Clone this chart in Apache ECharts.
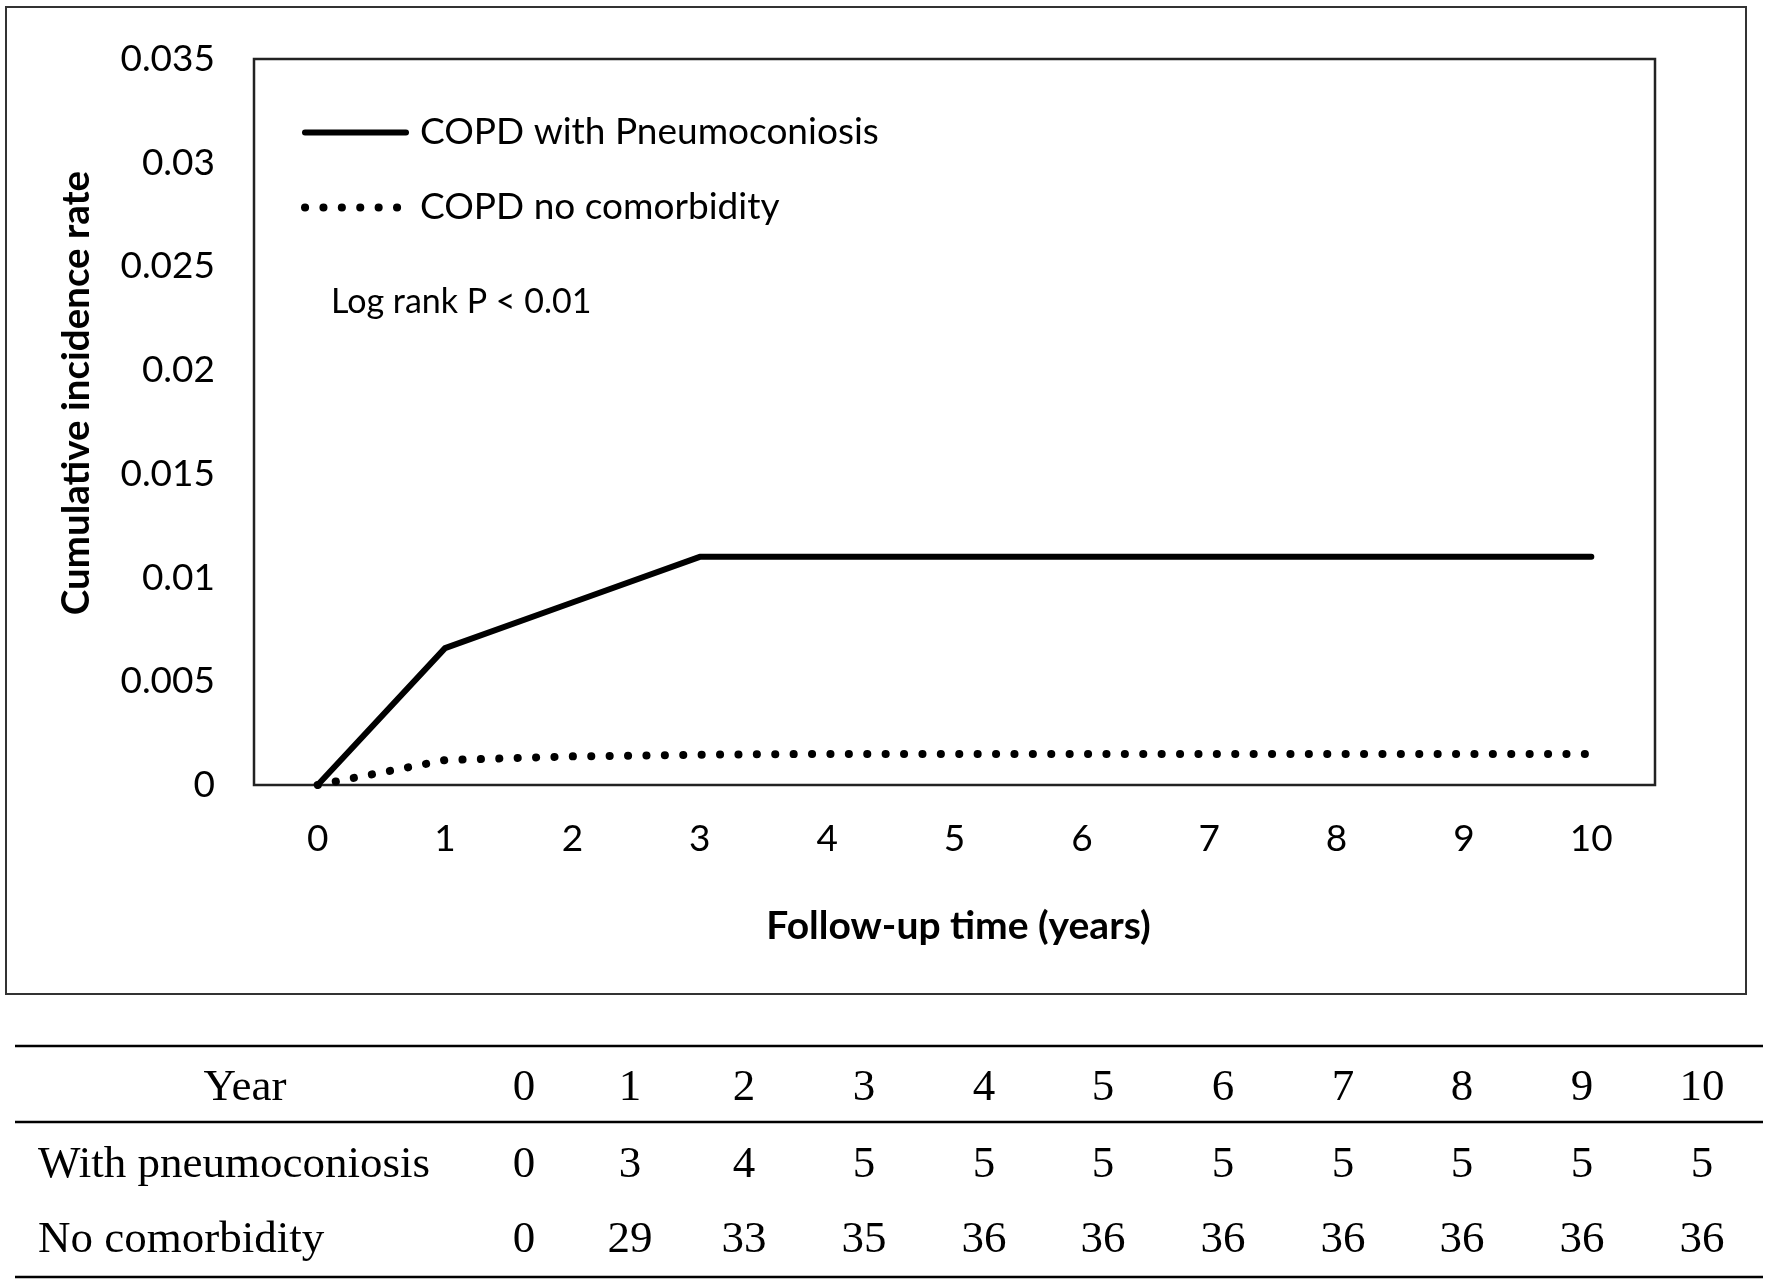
<!DOCTYPE html>
<html>
<head>
<meta charset="utf-8">
<script src="https://cdn.jsdelivr.net/npm/echarts@6/dist/echarts.min.js"></script>
<style>
html,body{margin:0;padding:0;background:#fff;}
#c{width:1772px;height:1288px;}
</style>
</head>
<body>
<div id="c"></div>
<script>
// ---- data ----
const years = ['0','1','2','3','4','5','6','7','8','9','10'];
const seriesNames = ['COPD with Pneumoconiosis', 'COPD no comorbidity'];
const pneumoRate  = [0, 0.0066, 0.0088, 0.011, 0.011, 0.011, 0.011, 0.011, 0.011, 0.011, 0.011];
const noComorbRate = [0, 0.0012, 0.00138, 0.00146, 0.0015, 0.0015, 0.0015, 0.0015, 0.0015, 0.0015, 0.0015];
const yTicks = { min: 0, max: 0.035, interval: 0.005 };
const annotation = 'Log rank P < 0.01';
const xTitle = 'Follow-up time (years)';
const yTitle = 'Cumulative incidence rate';

const tableHeaderLabel = 'Year';
const tableYears = [0, 1, 2, 3, 4, 5, 6, 7, 8, 9, 10];
const tableRowLabels = ['With pneumoconiosis', 'No comorbidity'];
const tableWithPneumo = [0, 3, 4, 5, 5, 5, 5, 5, 5, 5, 5];
const tableNoComorb = [0, 29, 33, 35, 36, 36, 36, 36, 36, 36, 36];

// ---- layout (positions only) ----
const colX = [524, 630, 744, 864, 984, 1103, 1223, 1343, 1462, 1582, 1702];
const rowY = [1088, 1165, 1240];
const ruleY = [1046, 1122, 1277];
const tableFont = '45px "Liberation Serif"';

const chart = echarts.init(document.getElementById('c'), null, { renderer: 'canvas' });

const graphics = [];
// outer frame around the chart
graphics.push({ type: 'rect', z: 0, shape: { x: 6, y: 7, width: 1740, height: 987 },
  style: { fill: 'none', stroke: '#333', lineWidth: 2 } });
// annotation
graphics.push({ type: 'text', x: 331, y: 302,
  style: { text: annotation, font: '34px Lato', fill: '#000', align: 'left', verticalAlign: 'middle' } });
// table rules
ruleY.forEach(y => {
  graphics.push({ type: 'line', shape: { x1: 15, y1: y, x2: 1763, y2: y },
    style: { stroke: '#000', lineWidth: 2.5 } });
});
// table header
graphics.push({ type: 'text', x: 245, y: rowY[0],
  style: { text: tableHeaderLabel, font: tableFont, fill: '#000', align: 'center', verticalAlign: 'middle' } });
tableYears.forEach((v, i) => {
  graphics.push({ type: 'text', x: colX[i], y: rowY[0],
    style: { text: String(v), font: tableFont, fill: '#000', align: 'center', verticalAlign: 'middle' } });
});
[tableWithPneumo, tableNoComorb].forEach((row, r) => {
  graphics.push({ type: 'text', x: 38, y: rowY[r + 1],
    style: { text: tableRowLabels[r], font: tableFont, fill: '#000', align: 'left', verticalAlign: 'middle' } });
  row.forEach((v, i) => {
    graphics.push({ type: 'text', x: colX[i], y: rowY[r + 1],
      style: { text: String(v), font: tableFont, fill: '#000', align: 'center', verticalAlign: 'middle' } });
  });
});

const option = {
  backgroundColor: '#fff',
  animation: false,
  textStyle: { fontFamily: 'Lato', color: '#000' },
  grid: {
    left: 254, top: 59, width: 1401, height: 726,
    show: true, borderColor: '#222', borderWidth: 2.5, backgroundColor: 'transparent'
  },
  legend: {
    orient: 'vertical',
    left: 301, top: 114,
    padding: 0,
    itemGap: 38,
    itemWidth: 101,
    itemHeight: 8,
    data: seriesNames,
    textStyle: { fontFamily: 'Lato', fontSize: 37, color: '#000', padding: [0, 0, 0, 9] },
    lineStyle: { width: 'inherit' },
    itemStyle: { opacity: 0 }
  },
  xAxis: {
    type: 'category',
    data: years,
    boundaryGap: true,
    axisLine: { show: false },
    axisTick: { show: false },
    splitLine: { show: false },
    axisLabel: { fontFamily: 'Lato', fontSize: 37, color: '#000', margin: 36 },
    name: xTitle,
    nameLocation: 'middle',
    nameGap: 122,
    nameTextStyle: { fontFamily: 'Lato', fontWeight: 'bold', fontSize: 39, color: '#000', padding: [0, 0, 0, 8] }
  },
  yAxis: {
    type: 'value',
    min: yTicks.min, max: yTicks.max, interval: yTicks.interval,
    axisLine: { show: false },
    axisTick: { show: false },
    splitLine: { show: false },
    axisLabel: { fontFamily: 'Lato', fontSize: 37, color: '#000', margin: 39 },
    name: yTitle,
    nameLocation: 'middle',
    nameGap: 158,
    nameTextStyle: { fontFamily: 'Lato', fontWeight: 'bold', fontSize: 38.5, color: '#000', padding: [0, 0, 0, 58] }
  },
  series: [
    {
      name: seriesNames[0],
      type: 'line',
      data: pneumoRate,
      symbol: 'none',
      lineStyle: { color: '#000', width: 6, cap: 'round', join: 'round' },
      itemStyle: { color: '#000' },
      z: 3
    },
    {
      name: seriesNames[1],
      type: 'line',
      data: noComorbRate,
      symbol: 'none',
      lineStyle: { color: '#000', width: 8, type: [0.1, 18.3], cap: 'round', join: 'round' },
      itemStyle: { color: '#000' },
      z: 2
    }
  ],
  graphic: graphics
};
chart.setOption(option);
</script>
</body>
</html>
